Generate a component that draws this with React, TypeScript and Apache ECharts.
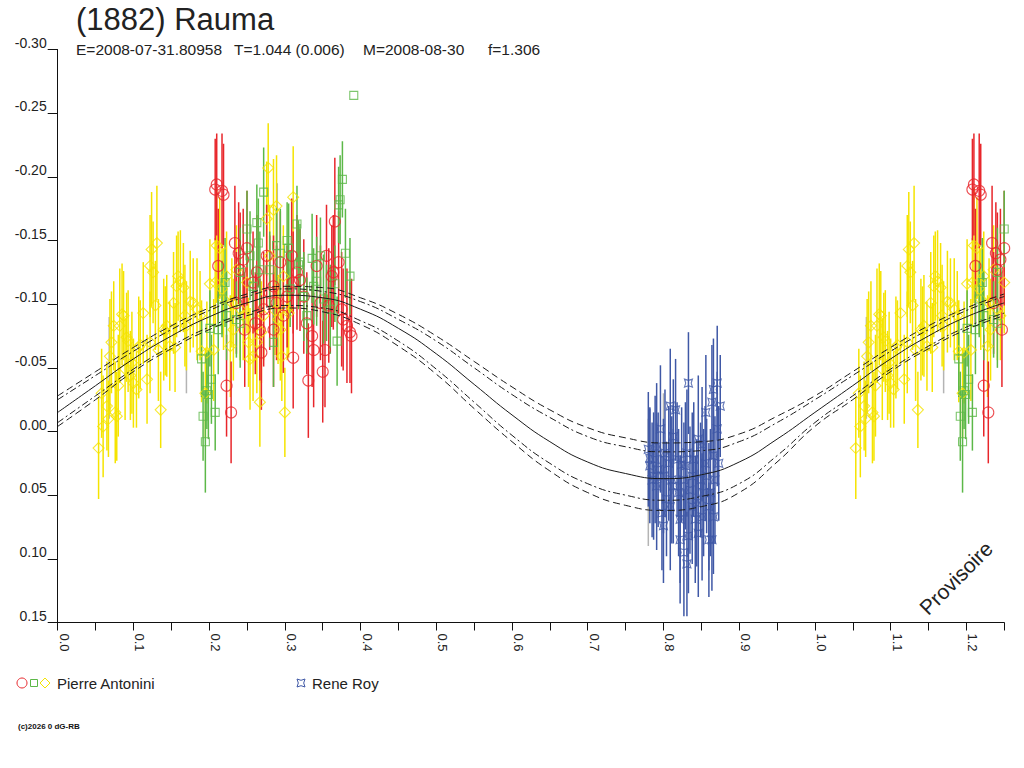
import React, { useEffect, useRef } from "react";
import * as echarts from "echarts";

// ---- data: [phase, magnitude, error] ----
const YELLOW: number[][] = [
  [0.054, 0.013, 0.04], [0.058, -0.030, 0.035], [0.060, -0.004, 0.04], [0.065, -0.020, 0.035],
  [0.067, -0.010, 0.03], [0.069, -0.059, 0.045], [0.071, -0.070, 0.04], [0.074, -0.083, 0.035],
  [0.076, -0.015, 0.04], [0.078, -0.012, 0.035], [0.080, -0.036, 0.04], [0.082, -0.083, 0.045],
  [0.085, -0.092, 0.04], [0.087, -0.091, 0.035], [0.089, -0.049, 0.04], [0.091, -0.074, 0.035],
  [0.093, -0.071, 0.04], [0.096, -0.044, 0.035], [0.098, -0.054, 0.04], [0.100, -0.038, 0.035],
  [0.104, -0.033, 0.03], [0.107, -0.066, 0.04], [0.109, -0.068, 0.035], [0.113, -0.093, 0.04],
  [0.118, -0.041, 0.035], [0.122, -0.070, 0.04], [0.122, -0.130, 0.04], [0.124, -0.143, 0.045],
  [0.126, -0.125, 0.04], [0.129, -0.099, 0.035], [0.131, -0.148, 0.045], [0.133, -0.064, 0.04],
  [0.136, -0.017, 0.03], [0.140, -0.080, 0.04], [0.142, -0.079, 0.035], [0.144, -0.083, 0.04],
  [0.148, -0.067, 0.035], [0.153, -0.101, 0.04], [0.155, -0.066, 0.035], [0.157, -0.114, 0.04],
  [0.159, -0.122, 0.035], [0.162, -0.118, 0.04], [0.166, -0.113, 0.035], [0.168, -0.091, 0.04],
  [0.170, -0.083, 0.035], [0.175, -0.102, 0.04], [0.179, -0.101, 0.035], [0.184, -0.096, 0.04],
  [0.188, -0.091, 0.035], [0.190, -0.063, 0.04], [0.195, -0.030, 0.035], [0.197, -0.062, 0.04],
  [0.201, -0.116, 0.035], [0.206, -0.064, 0.04], [0.208, -0.117, 0.035], [0.210, -0.146, 0.045],
  [0.214, -0.144, 0.04], [0.217, -0.112, 0.035], [0.219, -0.104, 0.04], [0.223, -0.122, 0.035],
  [0.228, -0.067, 0.04], [0.230, -0.101, 0.035], [0.232, -0.080, 0.04], [0.236, -0.127, 0.035],
  [0.241, -0.096, 0.04], [0.245, -0.091, 0.035], [0.250, -0.117, 0.04], [0.252, -0.070, 0.035],
  [0.254, -0.057, 0.04], [0.258, -0.059, 0.035], [0.263, -0.070, 0.04], [0.267, -0.023, 0.035],
  [0.269, -0.078, 0.04], [0.272, -0.091, 0.035], [0.276, -0.167, 0.045], [0.278, -0.207, 0.035],
  [0.280, -0.138, 0.04], [0.285, -0.174, 0.04], [0.287, -0.095, 0.035], [0.289, -0.177, 0.04],
  [0.291, -0.088, 0.035], [0.294, -0.080, 0.04], [0.296, -0.059, 0.035], [0.298, -0.122, 0.04],
  [0.300, -0.015, 0.035], [0.303, -0.096, 0.04], [0.305, -0.093, 0.035], [0.311, -0.184, 0.04],
];

const RED: number[][] = [
  [0.208, -0.190, 0.04], [0.210, -0.194, 0.04], [0.217, -0.189, 0.045], [0.219, -0.186, 0.04],
  [0.212, -0.130, 0.045], [0.223, -0.036, 0.04], [0.229, -0.015, 0.04], [0.234, -0.148, 0.045],
  [0.239, -0.140, 0.04], [0.241, -0.127, 0.045], [0.245, -0.135, 0.04], [0.250, -0.144, 0.045],
  [0.258, -0.117, 0.04], [0.263, -0.125, 0.045], [0.267, -0.080, 0.04], [0.269, -0.062, 0.045],
  [0.276, -0.138, 0.04], [0.280, -0.109, 0.045], [0.285, -0.114, 0.04], [0.289, -0.101, 0.045],
  [0.294, -0.133, 0.04], [0.298, -0.091, 0.045], [0.303, -0.106, 0.04], [0.309, -0.138, 0.045],
  [0.311, -0.058, 0.04], [0.316, -0.125, 0.045], [0.320, -0.119, 0.04], [0.325, -0.106, 0.045],
  [0.329, -0.085, 0.04], [0.331, -0.040, 0.045], [0.336, -0.075, 0.04], [0.338, -0.064, 0.045],
  [0.342, -0.130, 0.04], [0.347, -0.101, 0.045], [0.350, -0.047, 0.04], [0.353, -0.064, 0.045],
  [0.355, -0.138, 0.04], [0.358, -0.099, 0.045], [0.362, -0.122, 0.04], [0.364, -0.125, 0.045],
  [0.366, -0.165, 0.05], [0.371, -0.133, 0.04], [0.375, -0.096, 0.045], [0.377, -0.088, 0.04],
  [0.382, -0.083, 0.045], [0.386, -0.078, 0.04], [0.388, -0.075, 0.045], [0.311, -0.117, 0.04],
  [0.285, -0.080, 0.045], [0.261, -0.085, 0.04], [0.247, -0.080, 0.045], [0.236, -0.101, 0.04],
  [0.272, -0.096, 0.045],
];

const GREEN: number[][] = [
  [0.190, -0.057, 0.03], [0.192, -0.012, 0.035], [0.195, 0.008, 0.04], [0.197, -0.032, 0.03],
  [0.199, -0.029, 0.035], [0.201, -0.081, 0.03], [0.203, -0.041, 0.035], [0.208, -0.015, 0.03],
  [0.212, -0.080, 0.035], [0.217, -0.104, 0.03], [0.221, -0.117, 0.035], [0.236, -0.088, 0.03],
  [0.241, -0.085, 0.035], [0.250, -0.159, 0.03], [0.254, -0.138, 0.035], [0.263, -0.164, 0.03],
  [0.265, -0.148, 0.035], [0.267, -0.127, 0.03], [0.272, -0.188, 0.035], [0.280, -0.127, 0.03],
  [0.285, -0.070, 0.035], [0.289, -0.146, 0.03], [0.294, -0.140, 0.035], [0.303, -0.150, 0.03],
  [0.305, -0.144, 0.035], [0.316, -0.163, 0.03], [0.318, -0.131, 0.035], [0.320, -0.133, 0.03],
  [0.325, -0.106, 0.035], [0.329, -0.091, 0.03], [0.336, -0.136, 0.035], [0.338, -0.114, 0.03],
  [0.342, -0.118, 0.035], [0.347, -0.138, 0.03], [0.351, -0.104, 0.035], [0.355, -0.101, 0.03],
  [0.360, -0.096, 0.035], [0.366, -0.116, 0.03], [0.369, -0.071, 0.035], [0.371, -0.178, 0.03],
  [0.373, -0.182, 0.035], [0.376, -0.198, 0.03], [0.380, -0.140, 0.035], [0.386, -0.122, 0.03],
  [0.241, -0.125, 0.035], [0.258, -0.114, 0.03], [0.223, -0.091, 0.035], [0.307, -0.112, 0.03],
  [0.391, -0.264, 0.0],
];

const BLUE: number[][] = [
  [0.833, -0.038, 0.04], [0.809, -0.020, 0.045], [0.816, -0.017, 0.04], [0.871, -0.038, 0.045],
  [0.866, -0.033, 0.04], [0.864, -0.023, 0.045], [0.875, -0.020, 0.04], [0.856, -0.015, 0.045],
  [0.796, -0.002, 0.05], [0.813, 0.004, 0.045], [0.780, 0.014, 0.045], [0.782, 0.021, 0.04],
  [0.846, 0.006, 0.05], [0.851, 0.010, 0.045], [0.831, 0.017, 0.05], [0.824, 0.026, 0.045],
  [0.829, 0.027, 0.05], [0.873, 0.025, 0.045], [0.866, 0.019, 0.05], [0.782, 0.027, 0.045],
  [0.787, 0.035, 0.05], [0.800, 0.035, 0.045], [0.838, 0.035, 0.05], [0.857, 0.035, 0.045],
  [0.862, 0.048, 0.05], [0.804, 0.053, 0.045], [0.809, 0.059, 0.05], [0.798, 0.064, 0.045],
  [0.822, 0.069, 0.05], [0.833, 0.082, 0.045], [0.846, 0.080, 0.05], [0.860, 0.085, 0.045],
  [0.864, 0.085, 0.04], [0.827, 0.095, 0.05], [0.831, 0.104, 0.041], [0.851, 0.067, 0.05],
  [0.866, 0.067, 0.045], [0.791, 0.043, 0.05], [0.813, 0.043, 0.045], [0.844, 0.056, 0.05],
  [0.785, 0.038, 0.045], [0.789, 0.022, 0.05], [0.793, 0.030, 0.045], [0.802, 0.017, 0.05],
  [0.807, 0.025, 0.045], [0.811, 0.038, 0.05], [0.818, 0.022, 0.045], [0.820, 0.048, 0.05],
  [0.827, 0.038, 0.045], [0.835, 0.046, 0.05], [0.840, 0.022, 0.045], [0.842, 0.069, 0.05],
  [0.849, 0.038, 0.045], [0.853, 0.048, 0.05], [0.855, 0.025, 0.045], [0.868, 0.038, 0.05],
  [0.871, -0.002, 0.045], [0.791, 0.012, 0.05], [0.800, 0.074, 0.045], [0.822, 0.085, 0.05],
  [0.838, 0.059, 0.045], [0.860, 0.059, 0.05],
];

const GREY: number[][] = [
  [0.068, -0.050, 0.04], [0.170, -0.070, 0.04], [0.290, -0.140, 0.055],
  [0.350, -0.060, 0.04], [0.800, 0.020, 0.05], [0.780, 0.040, 0.05],
];

// fit curve and envelopes, sampled every 0.05 in phase from 0 to 1
const CURVE_PHASE = [0, 0.05, 0.1, 0.15, 0.2, 0.25, 0.3, 0.35, 0.4, 0.45, 0.5, 0.55, 0.6, 0.65, 0.7, 0.75, 0.8, 0.85, 0.9, 0.95, 1.0];
const FIT = [-0.015, -0.036, -0.057, -0.075, -0.090, -0.101, -0.107, -0.105, -0.096, -0.081, -0.061, -0.037, -0.013, 0.008, 0.024, 0.033, 0.037, 0.034, 0.024, 0.006, -0.015];
const UPPER_OUT = [-0.028, -0.047, -0.066, -0.083, -0.097, -0.108, -0.114, -0.113, -0.105, -0.092, -0.075, -0.055, -0.035, -0.017, -0.003, 0.005, 0.009, 0.008, 0.002, -0.012, -0.028];
const UPPER_IN = [-0.025, -0.044, -0.063, -0.080, -0.095, -0.106, -0.112, -0.110, -0.102, -0.088, -0.071, -0.050, -0.029, -0.011, 0.004, 0.012, 0.016, 0.015, 0.008, -0.007, -0.025];
const LOWER_IN = [-0.007, -0.028, -0.049, -0.067, -0.082, -0.093, -0.099, -0.097, -0.087, -0.071, -0.049, -0.023, 0.003, 0.025, 0.041, 0.050, 0.054, 0.051, 0.041, 0.019, -0.007];
const LOWER_OUT = [-0.004, -0.025, -0.047, -0.065, -0.080, -0.091, -0.097, -0.094, -0.084, -0.067, -0.045, -0.018, 0.008, 0.031, 0.048, 0.058, 0.062, 0.059, 0.048, 0.024, -0.004];

const TITLE = "(1882) Rauma";
const SUBTITLE_PARTS = ["E=2008-07-31.80958", "T=1.044 (0.006)", "M=2008-08-30", "f=1.306"];
const LEGEND_NAMES = ["Pierre Antonini", "Rene Roy"];

const Y_TICKS_MIN = -0.3;
const Y_TICKS_MAX = 0.15;
const X_MAX = 1.25;

const C_RED = "#e8262b";
const C_GREEN = "#5cb848";
const C_YELLOW = "#f5e400";
const C_BLUE = "#3f58a6";
const C_GREY = "#b4b4b4";
const C_LINE = "#1a1a1a";
const FONT = "'Liberation Sans', Arial, sans-serif";

const BLUE_SYMBOL = "path://M0,0 L5,1.6 L10,0 L8.4,5 L10,10 L5,8.4 L0,10 L1.6,5 Z";

function wrap(pts: number[][]): number[][] {
  const out: number[][] = [];
  pts.forEach((p) => {
    out.push(p);
    if (p[0] + 1 <= X_MAX) out.push([p[0] + 1, p[1], p[2]]);
  });
  return out;
}

function curveData(vals: number[]): number[][] {
  const d = CURVE_PHASE.map((ph, i) => [ph, vals[i]]);
  for (let i = 1; i < CURVE_PHASE.length; i++) {
    const ph = CURVE_PHASE[i] + 1;
    if (ph <= X_MAX + 1e-9) d.push([ph, vals[i]]);
  }
  return d;
}

function errSeries(pts: number[][], color: string) {
  return {
    type: "custom",
    data: wrap(pts).filter((p) => p[2] > 0),
    encode: { x: 0, y: 1 },
    clip: true,
    silent: true,
    renderItem: (_params: any, api: any) => {
      const x = api.value(0);
      const y = api.value(1);
      const e = api.value(2);
      const a = api.coord([x, y - e]);
      const b = api.coord([x, y + e]);
      return {
        type: "line",
        shape: { x1: a[0], y1: a[1], x2: b[0], y2: b[1] },
        style: { stroke: color, lineWidth: 1.5 },
      };
    },
  };
}

function symSeries(pts: number[][], color: string, symbol: string, size: number | number[]) {
  return {
    type: "scatter",
    data: wrap(pts).map((p) => [p[0], p[1]]),
    symbol,
    symbolSize: size,
    silent: true,
    itemStyle: { color: "rgba(0,0,0,0)", borderColor: color, borderWidth: 1.1 },
  };
}

function lineSeries(vals: number[], type: any) {
  return {
    type: "line",
    data: curveData(vals),
    smooth: true,
    showSymbol: false,
    symbol: "none",
    silent: true,
    lineStyle: { color: C_LINE, width: 1, type },
  };
}

const fmtY = (v: number) => (Math.abs(v) < 1e-9 ? "0.00" : v.toFixed(2));
const fmtX = (v: number) => (Math.round(v * 100) % 10 === 0 ? v.toFixed(1) : "");

function txt(text: string, x: number, y: number, fontSize: number, extra: any = {}) {
  return {
    type: "text",
    x,
    y,
    ...extra,
    style: { text, fontSize, fontFamily: FONT, fill: "#222", align: "left", verticalAlign: "middle", ...(extra.style || {}) },
  };
}

export default function App() {
  const ref = useRef<HTMLDivElement>(null);
  useEffect(() => {
    if (!ref.current) return;
    const chart = echarts.init(ref.current, undefined, { renderer: "svg" });
    const option: any = {
      animation: false,
      backgroundColor: "#ffffff",
      textStyle: { fontFamily: FONT },
      grid: { left: 57.7, right: 19.8, top: 49.5, bottom: 145.5, containLabel: false },
      xAxis: {
        type: "value",
        min: 0,
        max: X_MAX,
        interval: 0.05,
        axisLine: { show: true, onZero: false, lineStyle: { color: "#111", width: 1 } },
        axisTick: { show: true, length: 8, lineStyle: { color: "#111", width: 1 } },
        splitLine: { show: false },
        axisLabel: {
          rotate: -90,
          margin: 11,
          fontSize: 13,
          color: "#222",
          align: "left",
          verticalAlign: "bottom",
          formatter: fmtX,
        },
      },
      yAxis: {
        type: "value",
        inverse: true,
        min: Y_TICKS_MIN,
        max: Y_TICKS_MAX,
        interval: 0.05,
        axisLine: { show: true, onZero: false, lineStyle: { color: "#111", width: 1 } },
        axisTick: { show: true, length: 10, lineStyle: { color: "#111", width: 1 } },
        splitLine: { show: false },
        axisLabel: {
          margin: 11,
          fontSize: 14,
          color: "#222",
          verticalAlign: "bottom",
          formatter: fmtY,
        },
      },
      series: [
        errSeries(GREY, C_GREY),
        errSeries(YELLOW, C_YELLOW),
        symSeries(YELLOW, C_YELLOW, "diamond", [11, 11]),
        errSeries(RED, C_RED),
        symSeries(RED, C_RED, "circle", 11),
        errSeries(GREEN, C_GREEN),
        symSeries(GREEN, C_GREEN, "rect", 8),
        lineSeries(UPPER_OUT, [7, 4]),
        lineSeries(UPPER_IN, [7, 3, 2, 3]),
        lineSeries(FIT, "solid"),
        lineSeries(LOWER_IN, [7, 3, 2, 3]),
        lineSeries(LOWER_OUT, [7, 4]),
        errSeries(BLUE, C_BLUE),
        symSeries(BLUE, C_BLUE, BLUE_SYMBOL, 8),
      ],
      graphic: [
        txt(TITLE, 76, 19, 31),
        txt(SUBTITLE_PARTS[0], 76, 49, 15.5),
        txt(SUBTITLE_PARTS[1], 234, 49, 15.5),
        txt(SUBTITLE_PARTS[2], 363, 49, 15.5),
        txt(SUBTITLE_PARTS[3], 488, 49, 15.5),
        { type: "circle", shape: { cx: 22, cy: 683, r: 5 }, style: { fill: "none", stroke: C_RED, lineWidth: 1 } },
        { type: "rect", shape: { x: 30.5, y: 679.5, width: 7, height: 7 }, style: { fill: "none", stroke: C_GREEN, lineWidth: 1 } },
        { type: "polygon", shape: { points: [[45, 678], [50, 683], [45, 688], [40, 683]] }, style: { fill: "none", stroke: C_YELLOW, lineWidth: 1 } },
        txt(LEGEND_NAMES[0], 57, 683, 15),
        { type: "polygon", shape: { points: [[297, 679], [301, 680.3], [305, 679], [303.7, 683], [305, 687], [301, 685.7], [297, 687], [298.3, 683]] }, style: { fill: "none", stroke: C_BLUE, lineWidth: 1 } },
        txt(LEGEND_NAMES[1], 312, 683, 15),
        txt("(c)2026 0 dG-RB", 18, 726, 8, { style: { fontWeight: "bold", fill: "#111" } }),
        txt("Provisoire", 956, 578, 21, { rotation: Math.PI / 4, style: { align: "center" } }),
      ],
    };
    chart.setOption(option);
    return () => chart.dispose();
  }, []);
  return (
    <div
      ref={ref}
      style={{ position: "fixed", left: 0, top: 0, width: 1024, height: 768, background: "#fff" }}
    />
  );
}
